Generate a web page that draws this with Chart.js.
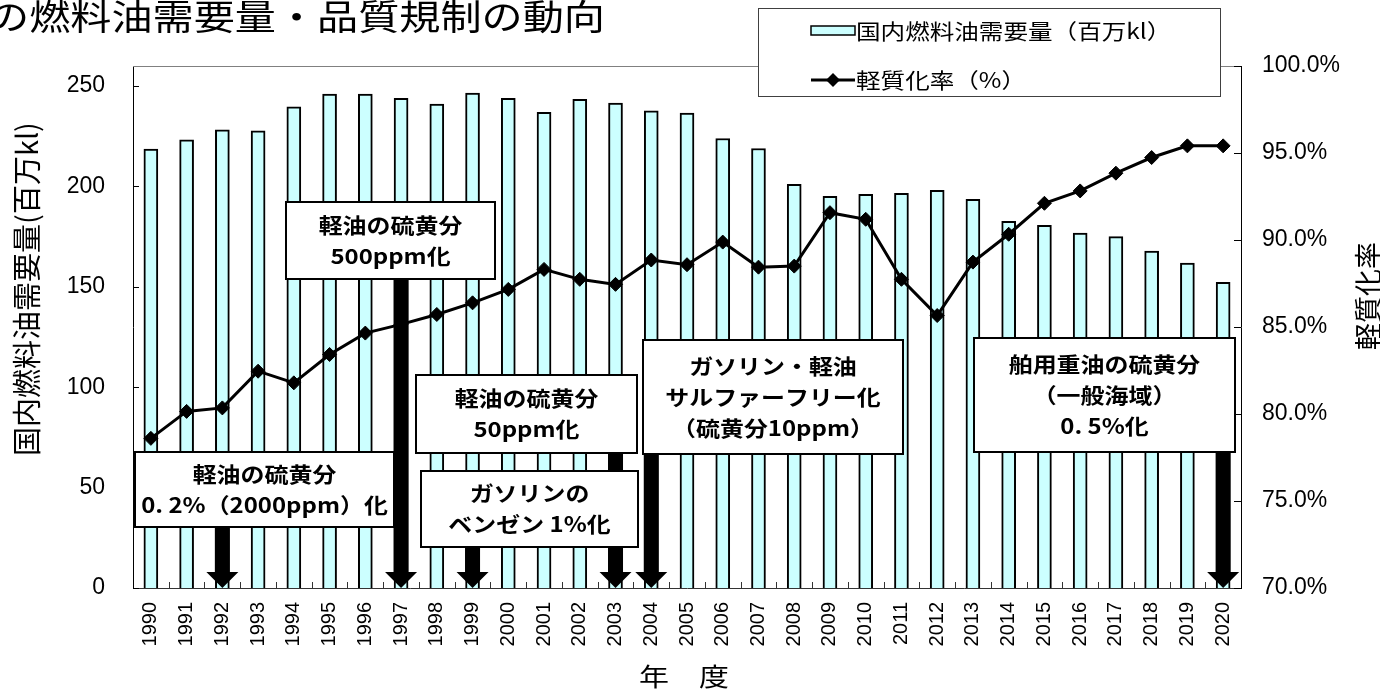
<!DOCTYPE html>
<html><head><meta charset="utf-8">
<style>html,body{margin:0;padding:0;background:#fff;overflow:hidden}</style>
<script src="https://cdn.jsdelivr.net/npm/chart.js@4.4.1/dist/chart.umd.min.js"></script>
</head><body>
<canvas id="c" width="1380" height="692" style="display:block"></canvas>
<script>
// ---- data ----
const years = ['1990','1991','1992','1993','1994','1995','1996','1997','1998','1999','2000','2001','2002','2003','2004','2005','2006','2007','2008','2009','2010','2011','2012','2013','2014','2015','2016','2017','2018','2019','2020'];
const demand = [218.6,223.2,228.2,227.7,239.7,246.0,246.0,243.9,241.0,246.5,243.9,236.9,243.4,241.5,237.7,236.6,223.9,218.9,201.1,195.1,196.1,196.6,198.1,193.6,182.6,180.6,176.8,175.0,167.8,161.8,152.2];
const lightRatio = [78.6,80.15,80.35,82.46,81.79,83.42,84.65,85.15,85.72,86.39,87.16,88.31,87.74,87.45,88.85,88.58,89.88,88.44,88.5,91.57,91.19,87.74,85.66,88.73,90.33,92.11,92.82,93.84,94.74,95.41,95.41];
const leftTicks = [0,50,100,150,200,250];
const rightTicks = [70,75,80,85,90,95,100];
const seriesNames = ['国内燃料油需要量（百万kl）','軽質化率（%）'];
const titleText = 'の燃料油需要量・品質規制の動向';
const leftTitle = '国内燃料油需要量(百万kl)';
const rightTitle = '軽質化率';
const xTitle = '年　度';
// regulation notes: text lines and the year the arrow points at
const noteLines = [
  ['軽油の硫黄分','0. 2%（2000ppm）化'],
  ['軽油の硫黄分','500ppm化'],
  ['軽油の硫黄分','50ppm化'],
  ['ガソリンの','ベンゼン 1%化'],
  ['ガソリン・軽油','サルファーフリー化','（硫黄分10ppm）'],
  ['舶用重油の硫黄分','（一般海域）','0. 5%化']
];
const noteYears = ['1992','1997','2003','1999','2004','2020'];

// ---- layout (box extents in category-index / left-axis units) ----
const noteBoxes = [
  {x0:-0.45, x1:6.80, yTop:67.9, yBot:30.4},
  {x0:3.78, x1:9.62, yTop:192.1, yBot:153.7},
  {x0:7.43, x1:13.60, yTop:106.3, yBot:67.4},
  {x0:7.55, x1:13.63, yTop:58.4, yBot:20.5},
  {x0:13.77, x1:21.04, yTop:123.5, yBot:66.9},
  {x0:23.03, x1:30.33, yTop:124.3, yBot:67.9}
];
const CJK = '"Noto Sans CJK JP"';

function txt(ctx, s, x, y, font, sx, align) {
  ctx.save();
  ctx.translate(x, y);
  ctx.scale(sx, 1);
  ctx.font = font;
  ctx.fillStyle = '#000';
  ctx.textAlign = align || 'center';
  ctx.textBaseline = 'middle';
  ctx.fillText(s, 0, 0);
  ctx.restore();
}
function vtxt(ctx, s, x, y, font, sy) {
  ctx.save();
  ctx.translate(x, y);
  ctx.rotate(-Math.PI / 2);
  ctx.scale(1, sy);
  ctx.font = font;
  ctx.fillStyle = '#000';
  ctx.textAlign = 'center';
  ctx.textBaseline = 'middle';
  ctx.fillText(s, 0, 0);
  ctx.restore();
}
function arrow(ctx, x, yTop, yTip) {
  const sw = 15, hw = 32, hh = 16;
  ctx.beginPath();
  ctx.moveTo(x - sw / 2, yTop);
  ctx.lineTo(x + sw / 2, yTop);
  ctx.lineTo(x + sw / 2, yTip - hh);
  ctx.lineTo(x + hw / 2, yTip - hh);
  ctx.lineTo(x, yTip);
  ctx.lineTo(x - hw / 2, yTip - hh);
  ctx.lineTo(x - sw / 2, yTip - hh);
  ctx.closePath();
  ctx.fillStyle = '#000';
  ctx.fill();
}

const decor = {
  id: 'decor',
  beforeDatasetsDraw(chart) {
    const {ctx, chartArea: a, scales} = chart;
    ctx.save();
    ctx.strokeStyle = '#808080'; ctx.lineWidth = 1;
    ctx.beginPath(); ctx.moveTo(a.left, a.top + 0.5); ctx.lineTo(a.right, a.top + 0.5); ctx.stroke();
    ctx.strokeStyle = '#000';
    leftTicks.forEach(v => {
      const y = Math.round(scales.y.getPixelForValue(v)) + 0.5;
      ctx.beginPath(); ctx.moveTo(a.left, y); ctx.lineTo(a.left + 6, y); ctx.stroke();
    });
    rightTicks.forEach(v => {
      const y = Math.round(scales.y1.getPixelForValue(v)) + 0.5;
      ctx.beginPath(); ctx.moveTo(a.right, y); ctx.lineTo(a.right - 7, y); ctx.stroke();
    });
    ctx.strokeStyle = '#333';
    for (let i = 0; i < years.length - 1; i++) {
      const x = Math.round((scales.x.getPixelForValue(i) + scales.x.getPixelForValue(i + 1)) / 2) + 0.5;
      ctx.beginPath(); ctx.moveTo(x, a.bottom); ctx.lineTo(x, a.bottom - 6); ctx.stroke();
    }
    ctx.restore();
  },
  afterDatasetsDraw(chart) {
    const {ctx, scales} = chart;
    const xs = scales.x, ys = scales.y;
    const xp = v => xs.getPixelForValue(0) + v * (xs.getPixelForValue(1) - xs.getPixelForValue(0));
    ctx.save();
    noteYears.forEach((yr, i) => {
      const b = noteBoxes[i];
      arrow(ctx, xs.getPixelForValue(years.indexOf(yr)), ys.getPixelForValue(b.yBot), ys.getPixelForValue(0));
    });
    noteBoxes.forEach((b, i) => {
      const x0 = Math.round(xp(b.x0)), x1 = Math.round(xp(b.x1));
      const y0 = Math.round(ys.getPixelForValue(b.yTop)), y1 = Math.round(ys.getPixelForValue(b.yBot));
      ctx.fillStyle = '#fff';
      ctx.fillRect(x0, y0, x1 - x0, y1 - y0);
      ctx.strokeStyle = '#000'; ctx.lineWidth = 2;
      ctx.strokeRect(x0, y0, x1 - x0, y1 - y0);
      const lines = noteLines[i];
      const lh = 31, cy = (y0 + y1) / 2, cx = (x0 + x1) / 2;
      lines.forEach((s, k) => {
        txt(ctx, s, cx, cy + (k - (lines.length - 1) / 2) * lh, 'bold 21px ' + CJK, 1.14);
      });
    });
    ctx.restore();
  },
  afterDraw(chart) {
    const {ctx, chartArea: a} = chart;
    ctx.save();
    txt(ctx, titleText, -12, 17, '35px ' + CJK, 1.175, 'left');
    vtxt(ctx, leftTitle, 27, 289, '29px ' + CJK, 1.0);
    vtxt(ctx, rightTitle, 1368, 296, '27px ' + CJK, 1.05);
    txt(ctx, xTitle, (a.left + a.right) / 2 - 3, 676, '25px ' + CJK, 1.2);
    // legend
    ctx.fillStyle = '#fff';
    ctx.fillRect(758, 8, 463, 89);
    ctx.strokeStyle = '#404040'; ctx.lineWidth = 1;
    ctx.strokeRect(758.5, 8.5, 462, 88);
    ctx.fillStyle = '#CCFFFF';
    ctx.fillRect(811, 26, 44, 9);
    ctx.strokeStyle = '#000'; ctx.lineWidth = 1.5;
    ctx.strokeRect(811, 26, 44, 9);
    txt(ctx, seriesNames[0], 856, 31, '21px ' + CJK, 1.17, 'left');
    ctx.lineWidth = 3;
    ctx.beginPath(); ctx.moveTo(811, 80); ctx.lineTo(855, 80); ctx.stroke();
    ctx.fillStyle = '#000';
    ctx.beginPath(); ctx.moveTo(833 - 7, 80); ctx.lineTo(833, 73); ctx.lineTo(833 + 7, 80); ctx.lineTo(833, 87); ctx.closePath(); ctx.fill();
    txt(ctx, seriesNames[1], 856, 80, '21px ' + CJK, 1.17, 'left');
    ctx.restore();
  }
};

new Chart(document.getElementById('c'), {
  data: {
    labels: years,
    datasets: [
      {type: 'line', label: seriesNames[1], data: lightRatio, yAxisID: 'y1',
       borderColor: '#000', borderWidth: 3, pointStyle: 'rectRot', pointRadius: 7,
       pointBackgroundColor: '#000', pointBorderColor: '#000', pointBorderWidth: 1, tension: 0, order: 0},
      {type: 'bar', label: seriesNames[0], data: demand, yAxisID: 'y',
       backgroundColor: '#CCFFFF', borderColor: '#000', borderWidth: 2, barThickness: 14, order: 1}
    ]
  },
  options: {
    responsive: false, animation: false, devicePixelRatio: 1,
    layout: {padding: {top: 66, left: 0, right: 0, bottom: 0}},
    plugins: {legend: {display: false}, tooltip: {enabled: false}, title: {display: false}},
    scales: {
      x: {
        type: 'category', offset: true,
        grid: {display: false, drawTicks: false},
        border: {display: true, color: '#333', width: 1},
        ticks: {autoSkip: false, maxRotation: 90, minRotation: 90, padding: 14, color: '#000',
                font: {family: '"Liberation Sans"', size: 20}},
        afterFit(s) { s.height = 104; }
      },
      y: {
        position: 'left', min: 0, max: 260,
        afterBuildTicks(s) { s.ticks = leftTicks.map(v => ({value: v})); },
        grid: {display: false, drawTicks: false},
        border: {display: true, color: '#000', width: 1},
        ticks: {padding: 28, color: '#000', font: {family: '"Liberation Sans"', size: 23}},
        afterFit(s) { s.width = 133; }
      },
      y1: {
        position: 'right', min: 70, max: 100,
        afterBuildTicks(s) { s.ticks = rightTicks.map(v => ({value: v})); },
        grid: {display: false, drawTicks: false},
        border: {display: true, color: '#000', width: 1},
        ticks: {padding: 21, color: '#000', font: {family: '"Liberation Sans"', size: 23},
                callback: v => Number(v).toFixed(1) + '%'},
        afterFit(s) { s.width = 139; }
      }
    }
  },
  plugins: [decor]
});
</script>
</body></html>
